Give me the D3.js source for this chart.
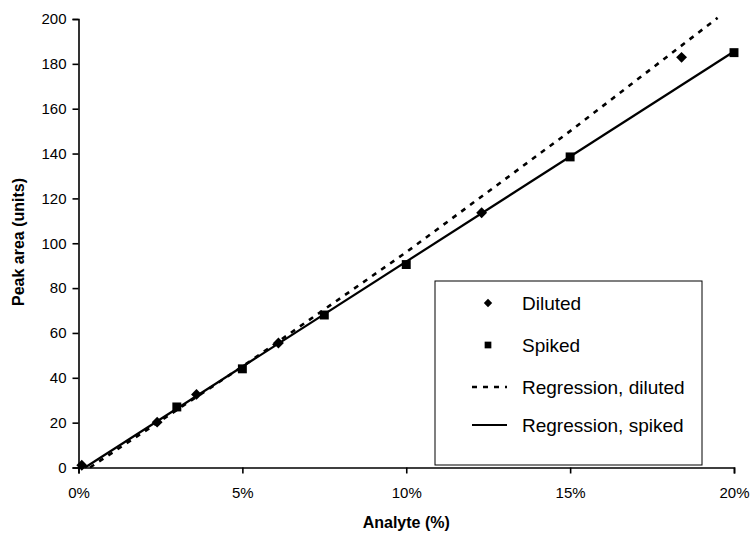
<!DOCTYPE html>
<html>
<head>
<meta charset="utf-8">
<script src="https://cdn.jsdelivr.net/npm/d3@7"></script>
<style>
  body { margin: 0; background: #fff; }
  text { font-family: "Liberation Sans", Arial, sans-serif; fill: #000; }
</style>
</head>
<body>
<div id="chart"></div>
<script>
// Diluted samples (analyte %, peak area)
var dilutedX = [0.1, 2.4, 3.6, 6.1, 12.3, 18.4];
var dilutedY = [1, 20.2, 32.6, 55.5, 113.6, 182.9];

// Spiked samples
var spikedX = [3, 5, 7.5, 10, 15, 20];
var spikedY = [27, 44, 68, 90.5, 138.5, 185];

// Regression lines
var regDilutedX = [0.35, 5, 10, 15, 19.5];
var regDilutedY = [0, 45, 96, 150, 200.5];
var regSpikedX = [0.2, 20];
var regSpikedY = [0, 185.5];

var xTicks = [0, 5, 10, 15, 20];
var yTicks = [0, 20, 40, 60, 80, 100, 120, 140, 160, 180, 200];

var legendLabels = ["Diluted", "Spiked", "Regression, diluted", "Regression, spiked"];

// SVG area
var svgWidth = 752;
var svgHeight = 533;

var plot = { left: 78.5, right: 734, top: 19, bottom: 467.5 };

var svg = d3
  .select("#chart")
  .append("svg")
  .attr("width", svgWidth)
  .attr("height", svgHeight);

var xScale = d3.scaleLinear().domain([0, 20]).range([plot.left, plot.right]);
var yScale = d3.scaleLinear().domain([0, 200]).range([plot.bottom, plot.top]);

// Axes
var bottomAxis = d3
  .axisBottom(xScale)
  .tickValues(xTicks)
  .tickSize(6)
  .tickPadding(14)
  .tickFormat((d) => d + "%");

var leftAxis = d3.axisLeft(yScale).tickValues(yTicks).tickSize(6).tickPadding(6);

var xAxisG = svg
  .append("g")
  .attr("transform", `translate(0, ${plot.bottom})`)
  .call(bottomAxis);

var yAxisG = svg
  .append("g")
  .attr("transform", `translate(${plot.left}, 0)`)
  .call(leftAxis);

[xAxisG, yAxisG].forEach((g) => {
  g.select(".domain").attr("stroke", "#000").attr("stroke-width", 1.6);
  g.selectAll(".tick line").attr("stroke", "#000").attr("stroke-width", 1.6);
  g.selectAll(".tick text")
    .attr("fill", "#000")
    .style("font-size", "15px")
    .style("font-family", '"Liberation Sans", Arial, sans-serif');
});

// Axis titles
svg
  .append("text")
  .attr("x", (plot.left + plot.right) / 2)
  .attr("y", 528)
  .attr("text-anchor", "middle")
  .style("font-size", "16px")
  .style("font-weight", "bold")
  .text("Analyte (%)");

svg
  .append("text")
  .attr("transform", "rotate(-90)")
  .attr("x", -242)
  .attr("y", 24)
  .attr("text-anchor", "middle")
  .style("font-size", "16px")
  .style("font-weight", "bold")
  .text("Peak area (units)");

// Regression lines
var line = d3
  .line()
  .x((d) => xScale(d[0]))
  .y((d) => yScale(d[1]));

svg
  .append("path")
  .datum(d3.zip(regDilutedX, regDilutedY))
  .attr("d", line)
  .attr("fill", "none")
  .attr("stroke", "#000")
  .attr("stroke-width", 2.6)
  .attr("stroke-dasharray", "5,6");

svg
  .append("path")
  .datum(d3.zip(regSpikedX, regSpikedY))
  .attr("d", line)
  .attr("fill", "none")
  .attr("stroke", "#000")
  .attr("stroke-width", 2.2);

// Markers
var diamond = d3.symbol().type(d3.symbolDiamond2).size(75);
var square = d3.symbol().type(d3.symbolSquare).size(80);

svg
  .selectAll(".diluted")
  .data(d3.zip(dilutedX, dilutedY))
  .enter()
  .append("path")
  .attr("class", "diluted")
  .attr("d", diamond)
  .attr("transform", (d) => `translate(${xScale(d[0])}, ${yScale(d[1])})`)
  .attr("fill", "#000");

svg
  .selectAll(".spiked")
  .data(d3.zip(spikedX, spikedY))
  .enter()
  .append("path")
  .attr("class", "spiked")
  .attr("d", square)
  .attr("transform", (d) => `translate(${xScale(d[0])}, ${yScale(d[1])})`)
  .attr("fill", "#000");

// Legend
var legend = svg.append("g").attr("transform", "translate(435, 281)");

legend
  .append("rect")
  .attr("width", 267)
  .attr("height", 184)
  .attr("fill", "#fff")
  .attr("stroke", "#000")
  .attr("stroke-width", 1);

var rowY = [22, 64, 106, 144];

legendLabels.forEach((label, i) => {
  var row = legend.append("g").attr("transform", `translate(0, ${rowY[i]})`);
  if (i === 0) {
    row.append("path").attr("d", d3.symbol().type(d3.symbolDiamond2).size(45))
      .attr("transform", "translate(53, 0)").attr("fill", "#000");
  } else if (i === 1) {
    row.append("path").attr("d", d3.symbol().type(d3.symbolSquare).size(45))
      .attr("transform", "translate(53, 0)").attr("fill", "#000");
  } else {
    row.append("line")
      .attr("x1", 37).attr("x2", 72)
      .attr("stroke", "#000")
      .attr("stroke-width", i === 2 ? 2.6 : 2.2)
      .attr("stroke-dasharray", i === 2 ? "5,6" : null);
  }
  row.append("text")
    .attr("x", 87)
    .attr("y", 7)
    .style("font-size", "19px")
    .text(label);
});
</script>
</body>
</html>
